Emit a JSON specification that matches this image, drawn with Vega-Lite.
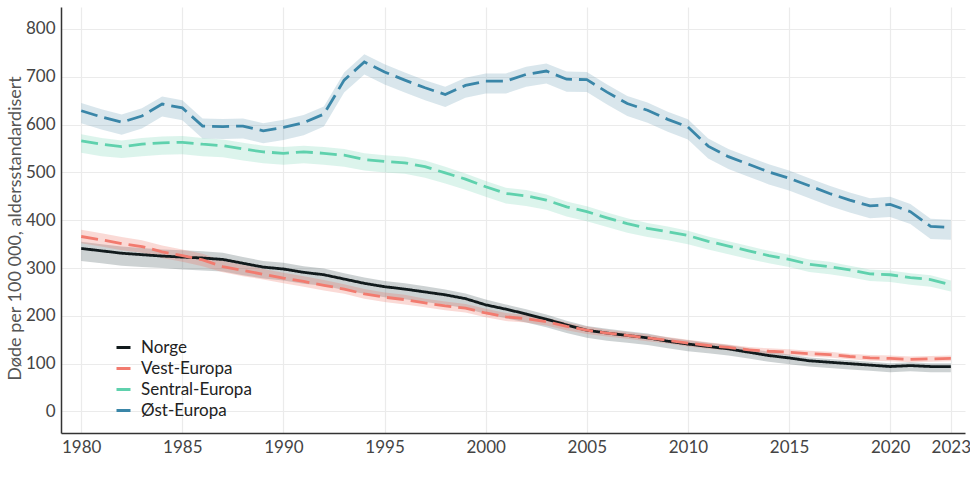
{
  "$schema": "https://vega.github.io/schema/vega-lite/v6.json",
  "width": 904,
  "height": 426,
  "autosize": {"type": "none"},
  "padding": {"left": 61, "top": 7, "right": 5, "bottom": 51},
  "background": "white",
  "config": {
    "font": "Lato",
    "view": {"stroke": null},
    "axis": {
      "labelFont": "Lato",
      "labelFontSize": 17,
      "labelColor": "#444444",
      "ticks": false,
      "domainColor": "#333333",
      "domainWidth": 1.5,
      "grid": true,
      "gridColor": "#ebebeb",
      "gridWidth": 1.2,
      "labelPadding": 6
    }
  },
  "data": {
    "values": [
      {"year":1980,"region":"Norge","v":341,"lo":315,"hi":355},
      {"year":1981,"region":"Norge","v":336,"lo":310,"hi":350},
      {"year":1982,"region":"Norge","v":331,"lo":305,"hi":345},
      {"year":1983,"region":"Norge","v":328,"lo":302,"hi":342},
      {"year":1984,"region":"Norge","v":325,"lo":300,"hi":339},
      {"year":1985,"region":"Norge","v":323,"lo":297,"hi":337},
      {"year":1986,"region":"Norge","v":321,"lo":295,"hi":335},
      {"year":1987,"region":"Norge","v":318,"lo":293,"hi":332},
      {"year":1988,"region":"Norge","v":310,"lo":285,"hi":323},
      {"year":1989,"region":"Norge","v":302,"lo":278,"hi":315},
      {"year":1990,"region":"Norge","v":298,"lo":274,"hi":311},
      {"year":1991,"region":"Norge","v":291,"lo":267,"hi":304},
      {"year":1992,"region":"Norge","v":286,"lo":263,"hi":299},
      {"year":1993,"region":"Norge","v":277,"lo":254,"hi":289},
      {"year":1994,"region":"Norge","v":268,"lo":246,"hi":280},
      {"year":1995,"region":"Norge","v":261,"lo":239,"hi":273},
      {"year":1996,"region":"Norge","v":256,"lo":235,"hi":268},
      {"year":1997,"region":"Norge","v":250,"lo":229,"hi":262},
      {"year":1998,"region":"Norge","v":244,"lo":223,"hi":255},
      {"year":1999,"region":"Norge","v":236,"lo":216,"hi":247},
      {"year":2000,"region":"Norge","v":223,"lo":204,"hi":234},
      {"year":2001,"region":"Norge","v":214,"lo":195,"hi":224},
      {"year":2002,"region":"Norge","v":204,"lo":186,"hi":214},
      {"year":2003,"region":"Norge","v":193,"lo":176,"hi":203},
      {"year":2004,"region":"Norge","v":181,"lo":164,"hi":190},
      {"year":2005,"region":"Norge","v":170,"lo":154,"hi":179},
      {"year":2006,"region":"Norge","v":164,"lo":148,"hi":173},
      {"year":2007,"region":"Norge","v":159,"lo":144,"hi":168},
      {"year":2008,"region":"Norge","v":154,"lo":139,"hi":163},
      {"year":2009,"region":"Norge","v":147,"lo":132,"hi":155},
      {"year":2010,"region":"Norge","v":141,"lo":126,"hi":149},
      {"year":2011,"region":"Norge","v":136,"lo":122,"hi":144},
      {"year":2012,"region":"Norge","v":131,"lo":117,"hi":139},
      {"year":2013,"region":"Norge","v":124,"lo":111,"hi":132},
      {"year":2014,"region":"Norge","v":117,"lo":104,"hi":125},
      {"year":2015,"region":"Norge","v":112,"lo":99,"hi":119},
      {"year":2016,"region":"Norge","v":106,"lo":94,"hi":113},
      {"year":2017,"region":"Norge","v":103,"lo":91,"hi":110},
      {"year":2018,"region":"Norge","v":100,"lo":88,"hi":107},
      {"year":2019,"region":"Norge","v":97,"lo":85,"hi":104},
      {"year":2020,"region":"Norge","v":94,"lo":82,"hi":101},
      {"year":2021,"region":"Norge","v":96,"lo":84,"hi":103},
      {"year":2022,"region":"Norge","v":94,"lo":82,"hi":101},
      {"year":2023,"region":"Norge","v":94,"lo":82,"hi":101},
      {"year":1980,"region":"Vest-Europa","v":366,"lo":352,"hi":380},
      {"year":1981,"region":"Vest-Europa","v":359,"lo":345,"hi":373},
      {"year":1982,"region":"Vest-Europa","v":351,"lo":337,"hi":365},
      {"year":1983,"region":"Vest-Europa","v":345,"lo":332,"hi":358},
      {"year":1984,"region":"Vest-Europa","v":334,"lo":321,"hi":347},
      {"year":1985,"region":"Vest-Europa","v":326,"lo":313,"hi":339},
      {"year":1986,"region":"Vest-Europa","v":317,"lo":304,"hi":330},
      {"year":1987,"region":"Vest-Europa","v":303,"lo":291,"hi":315},
      {"year":1988,"region":"Vest-Europa","v":295,"lo":283,"hi":307},
      {"year":1989,"region":"Vest-Europa","v":287,"lo":276,"hi":298},
      {"year":1990,"region":"Vest-Europa","v":279,"lo":268,"hi":290},
      {"year":1991,"region":"Vest-Europa","v":272,"lo":261,"hi":283},
      {"year":1992,"region":"Vest-Europa","v":264,"lo":253,"hi":275},
      {"year":1993,"region":"Vest-Europa","v":256,"lo":246,"hi":266},
      {"year":1994,"region":"Vest-Europa","v":246,"lo":236,"hi":256},
      {"year":1995,"region":"Vest-Europa","v":239,"lo":229,"hi":249},
      {"year":1996,"region":"Vest-Europa","v":234,"lo":224,"hi":244},
      {"year":1997,"region":"Vest-Europa","v":227,"lo":218,"hi":236},
      {"year":1998,"region":"Vest-Europa","v":221,"lo":212,"hi":230},
      {"year":1999,"region":"Vest-Europa","v":216,"lo":207,"hi":225},
      {"year":2000,"region":"Vest-Europa","v":206,"lo":197,"hi":215},
      {"year":2001,"region":"Vest-Europa","v":198,"lo":189,"hi":206},
      {"year":2002,"region":"Vest-Europa","v":194,"lo":186,"hi":202},
      {"year":2003,"region":"Vest-Europa","v":188,"lo":180,"hi":196},
      {"year":2004,"region":"Vest-Europa","v":178,"lo":170,"hi":186},
      {"year":2005,"region":"Vest-Europa","v":170,"lo":162,"hi":178},
      {"year":2006,"region":"Vest-Europa","v":164,"lo":157,"hi":171},
      {"year":2007,"region":"Vest-Europa","v":159,"lo":152,"hi":166},
      {"year":2008,"region":"Vest-Europa","v":154,"lo":147,"hi":161},
      {"year":2009,"region":"Vest-Europa","v":149,"lo":142,"hi":156},
      {"year":2010,"region":"Vest-Europa","v":143,"lo":136,"hi":150},
      {"year":2011,"region":"Vest-Europa","v":138,"lo":131,"hi":145},
      {"year":2012,"region":"Vest-Europa","v":134,"lo":128,"hi":140},
      {"year":2013,"region":"Vest-Europa","v":129,"lo":123,"hi":135},
      {"year":2014,"region":"Vest-Europa","v":126,"lo":120,"hi":132},
      {"year":2015,"region":"Vest-Europa","v":124,"lo":118,"hi":130},
      {"year":2016,"region":"Vest-Europa","v":121,"lo":115,"hi":127},
      {"year":2017,"region":"Vest-Europa","v":119,"lo":113,"hi":125},
      {"year":2018,"region":"Vest-Europa","v":115,"lo":109,"hi":121},
      {"year":2019,"region":"Vest-Europa","v":112,"lo":106,"hi":118},
      {"year":2020,"region":"Vest-Europa","v":111,"lo":105,"hi":117},
      {"year":2021,"region":"Vest-Europa","v":109,"lo":103,"hi":115},
      {"year":2022,"region":"Vest-Europa","v":110,"lo":104,"hi":116},
      {"year":2023,"region":"Vest-Europa","v":111,"lo":105,"hi":117},
      {"year":1980,"region":"Sentral-Europa","v":566,"lo":541,"hi":580},
      {"year":1981,"region":"Sentral-Europa","v":559,"lo":534,"hi":572},
      {"year":1982,"region":"Sentral-Europa","v":554,"lo":530,"hi":567},
      {"year":1983,"region":"Sentral-Europa","v":559,"lo":534,"hi":572},
      {"year":1984,"region":"Sentral-Europa","v":562,"lo":537,"hi":575},
      {"year":1985,"region":"Sentral-Europa","v":563,"lo":538,"hi":576},
      {"year":1986,"region":"Sentral-Europa","v":559,"lo":534,"hi":572},
      {"year":1987,"region":"Sentral-Europa","v":556,"lo":532,"hi":569},
      {"year":1988,"region":"Sentral-Europa","v":549,"lo":525,"hi":562},
      {"year":1989,"region":"Sentral-Europa","v":543,"lo":519,"hi":556},
      {"year":1990,"region":"Sentral-Europa","v":540,"lo":516,"hi":553},
      {"year":1991,"region":"Sentral-Europa","v":543,"lo":519,"hi":556},
      {"year":1992,"region":"Sentral-Europa","v":540,"lo":516,"hi":553},
      {"year":1993,"region":"Sentral-Europa","v":536,"lo":512,"hi":549},
      {"year":1994,"region":"Sentral-Europa","v":527,"lo":504,"hi":540},
      {"year":1995,"region":"Sentral-Europa","v":523,"lo":500,"hi":536},
      {"year":1996,"region":"Sentral-Europa","v":520,"lo":497,"hi":533},
      {"year":1997,"region":"Sentral-Europa","v":512,"lo":489,"hi":525},
      {"year":1998,"region":"Sentral-Europa","v":499,"lo":477,"hi":512},
      {"year":1999,"region":"Sentral-Europa","v":486,"lo":464,"hi":498},
      {"year":2000,"region":"Sentral-Europa","v":470,"lo":449,"hi":482},
      {"year":2001,"region":"Sentral-Europa","v":456,"lo":435,"hi":468},
      {"year":2002,"region":"Sentral-Europa","v":451,"lo":430,"hi":463},
      {"year":2003,"region":"Sentral-Europa","v":442,"lo":422,"hi":454},
      {"year":2004,"region":"Sentral-Europa","v":428,"lo":408,"hi":439},
      {"year":2005,"region":"Sentral-Europa","v":418,"lo":398,"hi":429},
      {"year":2006,"region":"Sentral-Europa","v":405,"lo":386,"hi":416},
      {"year":2007,"region":"Sentral-Europa","v":393,"lo":374,"hi":404},
      {"year":2008,"region":"Sentral-Europa","v":383,"lo":365,"hi":394},
      {"year":2009,"region":"Sentral-Europa","v":376,"lo":358,"hi":387},
      {"year":2010,"region":"Sentral-Europa","v":368,"lo":350,"hi":378},
      {"year":2011,"region":"Sentral-Europa","v":356,"lo":339,"hi":366},
      {"year":2012,"region":"Sentral-Europa","v":346,"lo":329,"hi":356},
      {"year":2013,"region":"Sentral-Europa","v":336,"lo":319,"hi":346},
      {"year":2014,"region":"Sentral-Europa","v":326,"lo":310,"hi":336},
      {"year":2015,"region":"Sentral-Europa","v":318,"lo":302,"hi":328},
      {"year":2016,"region":"Sentral-Europa","v":308,"lo":292,"hi":318},
      {"year":2017,"region":"Sentral-Europa","v":303,"lo":287,"hi":313},
      {"year":2018,"region":"Sentral-Europa","v":296,"lo":281,"hi":305},
      {"year":2019,"region":"Sentral-Europa","v":288,"lo":273,"hi":297},
      {"year":2020,"region":"Sentral-Europa","v":286,"lo":271,"hi":295},
      {"year":2021,"region":"Sentral-Europa","v":280,"lo":265,"hi":289},
      {"year":2022,"region":"Sentral-Europa","v":276,"lo":261,"hi":285},
      {"year":2023,"region":"Sentral-Europa","v":265,"lo":251,"hi":274},
      {"year":1980,"region":"Øst-Europa","v":629,"lo":603,"hi":645},
      {"year":1981,"region":"Øst-Europa","v":616,"lo":590,"hi":632},
      {"year":1982,"region":"Øst-Europa","v":605,"lo":579,"hi":621},
      {"year":1983,"region":"Øst-Europa","v":618,"lo":592,"hi":634},
      {"year":1984,"region":"Øst-Europa","v":643,"lo":617,"hi":659},
      {"year":1985,"region":"Øst-Europa","v":635,"lo":609,"hi":651},
      {"year":1986,"region":"Øst-Europa","v":597,"lo":571,"hi":613},
      {"year":1987,"region":"Øst-Europa","v":596,"lo":570,"hi":612},
      {"year":1988,"region":"Øst-Europa","v":597,"lo":571,"hi":613},
      {"year":1989,"region":"Øst-Europa","v":587,"lo":561,"hi":603},
      {"year":1990,"region":"Øst-Europa","v":594,"lo":568,"hi":610},
      {"year":1991,"region":"Øst-Europa","v":604,"lo":578,"hi":620},
      {"year":1992,"region":"Øst-Europa","v":622,"lo":596,"hi":638},
      {"year":1993,"region":"Øst-Europa","v":693,"lo":667,"hi":709},
      {"year":1994,"region":"Øst-Europa","v":731,"lo":705,"hi":747},
      {"year":1995,"region":"Øst-Europa","v":710,"lo":684,"hi":726},
      {"year":1996,"region":"Øst-Europa","v":693,"lo":667,"hi":709},
      {"year":1997,"region":"Øst-Europa","v":677,"lo":651,"hi":693},
      {"year":1998,"region":"Øst-Europa","v":663,"lo":637,"hi":679},
      {"year":1999,"region":"Øst-Europa","v":682,"lo":656,"hi":698},
      {"year":2000,"region":"Øst-Europa","v":691,"lo":665,"hi":707},
      {"year":2001,"region":"Øst-Europa","v":691,"lo":665,"hi":707},
      {"year":2002,"region":"Øst-Europa","v":705,"lo":679,"hi":721},
      {"year":2003,"region":"Øst-Europa","v":712,"lo":686,"hi":728},
      {"year":2004,"region":"Øst-Europa","v":695,"lo":669,"hi":711},
      {"year":2005,"region":"Øst-Europa","v":694,"lo":668,"hi":710},
      {"year":2006,"region":"Øst-Europa","v":668,"lo":642,"hi":684},
      {"year":2007,"region":"Øst-Europa","v":644,"lo":618,"hi":660},
      {"year":2008,"region":"Øst-Europa","v":630,"lo":604,"hi":646},
      {"year":2009,"region":"Øst-Europa","v":611,"lo":585,"hi":627},
      {"year":2010,"region":"Øst-Europa","v":595,"lo":569,"hi":611},
      {"year":2011,"region":"Øst-Europa","v":555,"lo":529,"hi":571},
      {"year":2012,"region":"Øst-Europa","v":533,"lo":507,"hi":549},
      {"year":2013,"region":"Øst-Europa","v":517,"lo":491,"hi":533},
      {"year":2014,"region":"Øst-Europa","v":501,"lo":475,"hi":517},
      {"year":2015,"region":"Øst-Europa","v":488,"lo":462,"hi":504},
      {"year":2016,"region":"Øst-Europa","v":472,"lo":446,"hi":488},
      {"year":2017,"region":"Øst-Europa","v":456,"lo":430,"hi":472},
      {"year":2018,"region":"Øst-Europa","v":442,"lo":416,"hi":458},
      {"year":2019,"region":"Øst-Europa","v":430,"lo":404,"hi":446},
      {"year":2020,"region":"Øst-Europa","v":433,"lo":407,"hi":449},
      {"year":2021,"region":"Øst-Europa","v":418,"lo":392,"hi":434},
      {"year":2022,"region":"Øst-Europa","v":387,"lo":361,"hi":403},
      {"year":2023,"region":"Øst-Europa","v":385,"lo":359,"hi":401}
    ]
  },
  "encoding": {
    "x": {
      "field": "year",
      "type": "quantitative",
      "scale": {"domain": [1979, 2023.7], "nice": false, "zero": false},
      "axis": {
        "title": null,
        "values": [1980, 1985, 1990, 1995, 2000, 2005, 2010, 2015, 2020, 2023],
        "format": "d",
        "labelFlush": false
      }
    }
  },
  "layer": [
    {
      "mark": {"type": "area", "opacity": 0.25},
      "encoding": {
        "y": {
          "field": "lo",
          "type": "quantitative",
          "scale": {"domain": [-45, 846], "nice": false, "zero": false},
          "axis": {
            "title": "Døde per 100 000, aldersstandardisert",
            "values": [0, 100, 200, 300, 400, 500, 600, 700, 800],
            "titleFont": "Lato",
            "titleFontSize": 18,
            "titleFontWeight": "normal",
            "titleColor": "#555555",
            "titleBaseline": "middle",
            "titleX": -46,
            "titleY": 221
          }
        },
        "y2": {"field": "hi"},
        "fill": {
          "field": "region",
          "type": "nominal",
          "scale": {
            "range": ["#374b4f", "#73d3b3", "#eb6b5b", "#679bb3"]
          },
          "legend": null
        }
      }
    },
    {
      "mark": {"type": "line", "strokeWidth": 2.8},
      "encoding": {
        "y": {"field": "v", "type": "quantitative"},
        "strokeDash": {
          "field": "region",
          "type": "nominal",
          "scale": {
            "range": [[1, 0], [17, 7], [17, 7], [17, 7]]
          },
          "legend": null
        },
        "stroke": {
          "field": "region",
          "type": "nominal",
          "scale": {
            "domain": ["Norge", "Vest-Europa", "Sentral-Europa", "Øst-Europa"],
            "range": ["#111a1c", "#f27b6f", "#5fd1ad", "#3a86a8"]
          },
          "legend": {
            "title": null,
            "orient": "none",
            "legendX": 54,
            "legendY": 332,
            "padding": 0,
            "symbolType": "stroke",
            "symbolStrokeWidth": 3,
            "symbolSize": 196,
            "symbolDash": [1, 0],
            "labelFont": "Lato",
            "labelFontSize": 17,
            "labelColor": "#222222",
            "labelOffset": 9,
            "rowPadding": 3
          }
        }
      }
    }
  ]
}
